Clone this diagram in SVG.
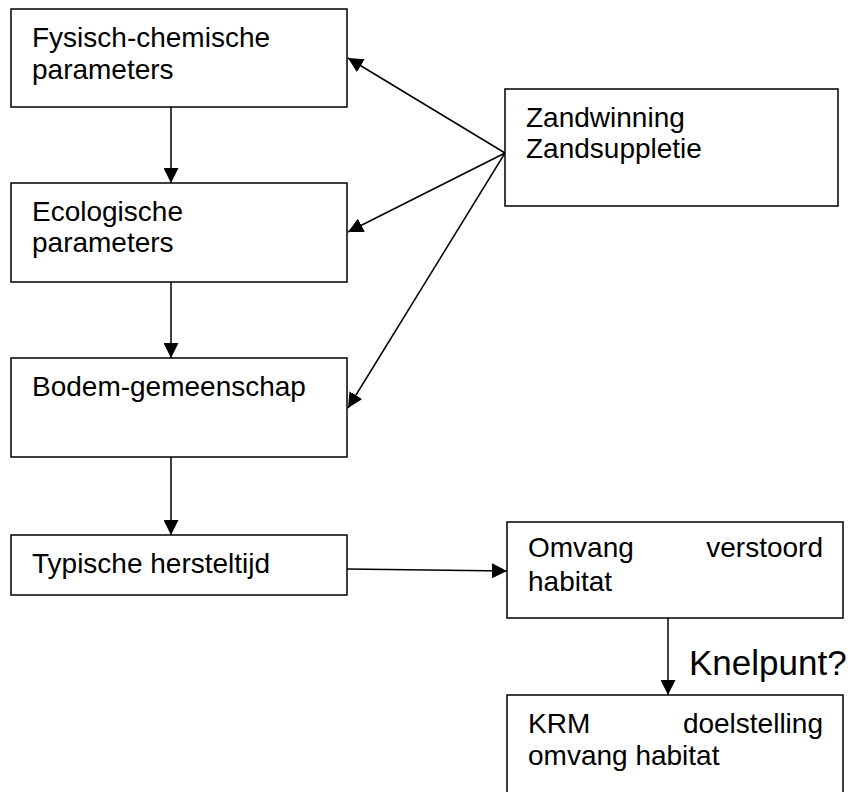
<svg xmlns="http://www.w3.org/2000/svg" width="858" height="792" viewBox="0 0 858 792">
<style>
.box{fill:#fff;stroke:#000;stroke-width:1.5}
.t{font-family:"Liberation Sans",Arial,sans-serif;font-size:28px;fill:#000}
.big{font-family:"Liberation Sans",Arial,sans-serif;font-size:35px;fill:#000}
.c{stroke:#000;stroke-width:1.5;fill:none;marker-end:url(#ah)}
</style>
<defs>
<marker id="ah" viewBox="0 0 10 10" refX="10" refY="5" markerWidth="15" markerHeight="15" markerUnits="userSpaceOnUse" orient="auto">
<path d="M0,0 L10,5 L0,10 z" fill="#000"/>
</marker>
</defs>
<rect width="858" height="792" fill="#fff"/>
<g id="connectors">
<line class="c" x1="171" y1="107" x2="171" y2="183"/>
<line class="c" x1="171" y1="282" x2="171" y2="358"/>
<line class="c" x1="171" y1="457" x2="171" y2="535"/>
<line class="c" x1="505" y1="153" x2="348" y2="58"/>
<line class="c" x1="505" y1="153" x2="348" y2="232"/>
<line class="c" x1="505" y1="153" x2="348" y2="408"/>
<line class="c" x1="347" y1="569" x2="507" y2="571"/>
<line class="c" x1="668" y1="618" x2="668" y2="695"/>
</g>
<g id="n1"><rect class="box" x="11" y="9" width="336" height="98"/><text class="t" x="32" y="47">Fysisch-chemische</text><text class="t" x="32" y="79">parameters</text></g>
<g id="n2"><rect class="box" x="11" y="183" width="336" height="99"/><text class="t" x="32" y="221">Ecologische</text><text class="t" x="32" y="252">parameters</text></g>
<g id="n3"><rect class="box" x="11" y="358" width="336" height="99"/><text class="t" x="32" y="396">Bodem-gemeenschap</text></g>
<g id="n4"><rect class="box" x="11" y="535" width="336" height="60"/><text class="t" x="32" y="573">Typische hersteltijd</text></g>
<g id="n5"><rect class="box" x="505" y="89" width="333" height="117"/><text class="t" x="526" y="127">Zandwinning</text><text class="t" x="526" y="158">Zandsuppletie</text></g>
<g id="n6"><rect class="box" x="507" y="522" width="336" height="96"/><text class="t" x="528" y="557">Omvang</text><text class="t" x="823" y="557" text-anchor="end">verstoord</text><text class="t" x="528" y="591">habitat</text></g>
<g id="n7"><rect class="box" x="507" y="695" width="336" height="110"/><text class="t" x="528" y="733">KRM</text><text class="t" x="823" y="733" text-anchor="end">doelstelling</text><text class="t" x="528" y="765">omvang habitat</text></g>
<text class="big" x="689" y="675">Knelpunt?</text>
</svg>
